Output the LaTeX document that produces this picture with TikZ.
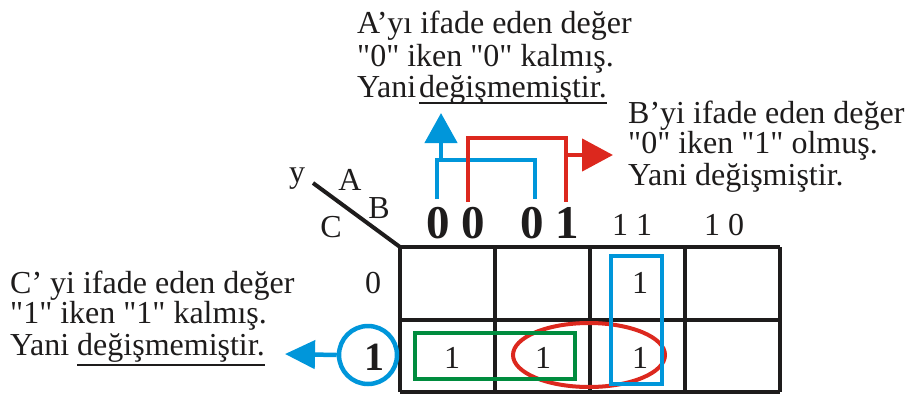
\documentclass[tikz,border=0pt]{standalone}
\usepackage{fontspec}
\setmainfont{Liberation Serif}[Ligatures=TeXOff]
\usetikzlibrary{arrows.meta,shapes.geometric}
\definecolor{kblue}{RGB}{0,150,218}
\definecolor{kred}{RGB}{220,40,30}
\definecolor{kgreen}{RGB}{0,140,62}
\definecolor{kblack}{RGB}{30,28,28}
\begin{document}
\begin{tikzpicture}[x=1pt,y=-1pt,
  txt/.style={anchor=base west,inner sep=0pt,font=\fontsize{32}{32}\selectfont,text=kblack},
  lbl/.style={anchor=base,inner sep=0pt,font=\fontsize{32}{32}\selectfont,text=kblack},
  bighead/.style={anchor=base,inner sep=0pt,font=\fontsize{47}{47}\selectfont\bfseries,text=kblack},
  gridline/.style={line width=4pt,draw=kblack},
  blueline/.style={line width=4.5pt,draw=kblue},
  redline/.style={line width=4.5pt,draw=kred},
  uline/.style={line width=1.8pt,draw=kblack}]
\useasboundingbox (0,0) rectangle (907,394);
% grid
\foreach \yy in {247,320,392} \draw[gridline] (400,\yy) -- (780,\yy);
\foreach \xx in {400,495,590,685,780} \draw[gridline] (\xx,247) -- (\xx,392);
% diagonal
\coordinate (dg1) at (313,183);
\coordinate (dg2) at (400,247);
\draw[line width=4pt,draw=kblack] (dg1) -- (dg2);
% axis labels
\node[lbl] (ly) at (297,182) {y};
\node[lbl] (lA) at (350,190) {A};
\node[lbl] (lB) at (379,218) {B};
\node[lbl] (lC) at (331,237) {C};
% headers
\node[bighead] (h00) at (456,238) {0 0};
\node[bighead] (h01) at (550,238) {0 1};
\node[lbl] (h11) at (632,235) {1 1};
\node[lbl] (h10) at (724,235) {1 0};
% row labels
\node[lbl] (r0) at (373,293) {0};
\node[anchor=base,inner sep=0pt,font=\fontsize{40}{40}\selectfont\bfseries,text=kblack] (r1) at (374,370) {1};
% cells
\node[lbl] (c011) at (640,293) {1};
\node[lbl] (c100) at (452,368) {1};
\node[lbl] (c101) at (543,368) {1};
\node[lbl] (c111) at (640,368) {1};
% groupings
\node[draw=kred,line width=4pt,ellipse,minimum width=152pt,minimum height=64pt,inner sep=0pt] (ell) at (589,355) {};
\node[draw=kgreen,line width=4.5pt,minimum width=160pt,minimum height=46pt,inner sep=0pt] (grn) at (495,356) {};
\node[draw=kblue,line width=4.5pt,minimum width=51pt,minimum height=128pt,inner sep=0pt] (blr) at (636.5,320) {};
% blue circle and arrow
\node[draw=kblue,line width=4.5pt,circle,minimum size=58pt,inner sep=0pt] (circ) at (368,355) {};
\coordinate (ctip) at (285,354);
\draw[blueline,-{Triangle[length=30pt,width=28pt]}] (circ.west) -- (ctip);
% blue bracket (A)
\coordinate (ba1) at (437,199);
\coordinate (ba2) at (437,160);
\coordinate (ba3) at (535,160);
\coordinate (ba4) at (535,199);
\draw[blueline] (ba1) -- (ba2) -- (ba3) -- (ba4);
\coordinate (bs) at (441,160);
\coordinate (btip) at (441,113);
\draw[blueline,-{Triangle[length=30pt,width=32pt]}] (bs) -- (btip);
% red bracket (B)
\coordinate (ra1) at (468,202);
\coordinate (ra2) at (468,138);
\coordinate (ra3) at (566,138);
\coordinate (ra4) at (566,202);
\draw[redline] (ra1) -- (ra2) -- (ra3) -- (ra4);
\coordinate (rs) at (566,155);
\coordinate (rtip) at (613,155);
\draw[redline,-{Triangle[length=31pt,width=32pt]}] (rs) -- (rtip);
% A text
\node[txt] (a1) at (357,33) {A’yı ifade eden değer};
\node[txt] (a2) at (357,66) {"0" iken "0" kalmış.};
\node[txt] (a3) at (357,97) {Yani};
\node[txt] (a3u) at (419,97) {değişmemiştir.};
\draw[uline] ([yshift=-6pt]a3u.base west) -- ([yshift=-6pt]a3u.base east);
% B text
\node[txt] (b1) at (628,123) {B’yi ifade eden değer};
\node[txt] (b2) at (628,153) {"0" iken "1" olmuş.};
\node[txt] (b3) at (628,185) {Yani değişmiştir.};
% C text
\node[txt] (t1) at (10,293) {C’ yi ifade eden değer};
\node[txt] (t2) at (10,323) {"1" iken "1" kalmış.};
\node[txt] (t3) at (10,355) {Yani};
\node[txt] (t3u) at (77,355) {değişmemiştir.};
\draw[uline] ([yshift=-10pt]t3u.base west) -- ([yshift=-10pt]t3u.base east);
\end{tikzpicture}
\end{document}
